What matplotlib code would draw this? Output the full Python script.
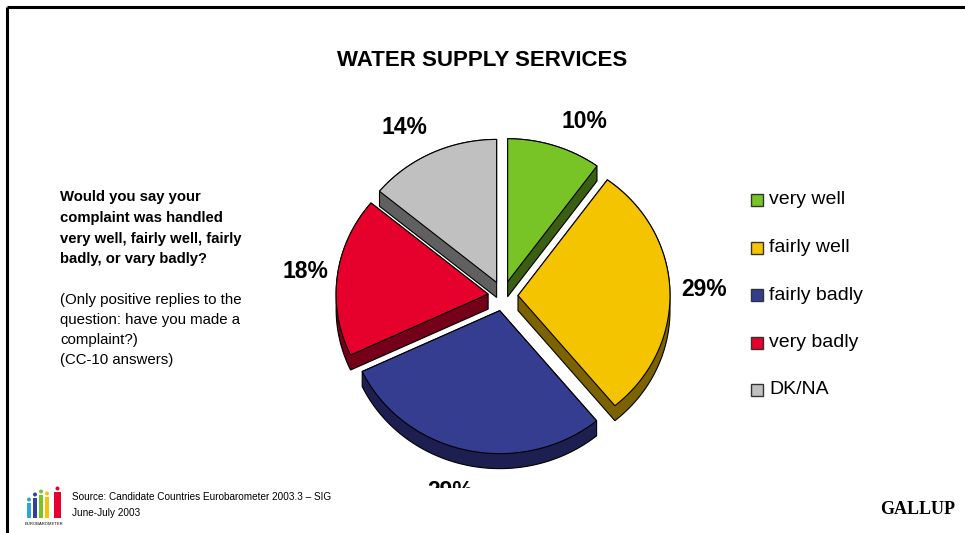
import numpy as np
import matplotlib.pyplot as plt
from matplotlib.patches import Polygon, Rectangle, Circle

categories = ['very well', 'fairly well', 'fairly badly', 'very badly', 'DK/NA']
shares = [10, 29, 29, 18, 14]
top_colors = ['#78C326', '#F5C400', '#343D8F', '#E6002C', '#C0C0C0']
side_colors = ['#3A5E12', '#7D6300', '#1C1F50', '#74001A', '#606060']

# label anchors (pixels) for the percentage texts
label_xy = [(584, 121), (704, 290), (450, 492), (305, 272), (404, 127)]

plt.rcParams['font.family'] = ['Liberation Sans', 'DejaVu Sans']

fig = plt.figure(figsize=(9.65, 5.33), dpi=100)
ax = fig.add_axes([0, 0, 1, 1])
ax.set_xlim(0, 965)
ax.set_ylim(533, 0)
ax.axis('off')

# frame lines along top and left
ax.plot([7, 965], [7, 7], color='black', lw=2.2, solid_capstyle='butt')
ax.plot([7, 7], [7, 533], color='black', lw=2.2, solid_capstyle='butt')


def hull(pts):
    pts = sorted(map(tuple, pts))
    def cross(o, a, b):
        return (a[0] - o[0]) * (b[1] - o[1]) - (a[1] - o[1]) * (b[0] - o[0])
    lower, upper = [], []
    for p in pts:
        while len(lower) >= 2 and cross(lower[-2], lower[-1], p) <= 0:
            lower.pop()
        lower.append(p)
    for p in reversed(pts):
        while len(upper) >= 2 and cross(upper[-2], upper[-1], p) <= 0:
            upper.pop()
        upper.append(p)
    return np.array(lower[:-1] + upper[:-1])


# 3D exploded pie, drawn in pixel coordinates
cx, cy = 503, 296
rx, ry = 152, 143
depth = 15
explode = 15

fracs = np.array(shares) / sum(shares)
starts = 90 - 360 * np.concatenate([[0], np.cumsum(fracs)[:-1]])
ends = starts - 360 * fracs

tops = []
for t1, t2, c_side in zip(starts, ends, side_colors):
    mid = np.radians((t1 + t2) / 2)
    ox = cx + explode * np.cos(mid)
    oy = cy - explode * np.sin(mid)
    th = np.radians(np.linspace(t1, t2, 80))
    arc = np.column_stack([ox + rx * np.cos(th), oy - ry * np.sin(th)])
    top = np.vstack([[ox, oy], arc])
    bottom = top + [0, depth]
    side = hull(np.vstack([top, bottom]))
    ax.add_patch(Polygon(side, closed=True, facecolor=c_side,
                         edgecolor='black', lw=0.8, zorder=2))
    tops.append(top)

for top, c_top in zip(tops, top_colors):
    ax.add_patch(Polygon(top, closed=True, facecolor=c_top,
                         edgecolor='black', lw=0.8, zorder=3))

for (lx, ly), s in zip(label_xy, shares):
    ax.text(lx, ly, f'{s}%', fontsize=16.5, fontweight='bold',
            ha='center', va='center', zorder=4)

# footer band hides the lowest label
ax.add_patch(Rectangle((340, 488), 300, 45, facecolor='white',
                       edgecolor='none', zorder=5))

ax.text(482, 60, 'WATER SUPPLY SERVICES', fontsize=16, fontweight='bold',
        ha='center', va='center')

# legend
for i, (cat, col) in enumerate(zip(categories, top_colors)):
    y = 200 + i * 47.5
    ax.add_patch(Rectangle((751, y - 6), 12, 12, facecolor=col,
                           edgecolor='#333333', lw=1.0))
    ax.text(769, y, cat, fontsize=14, ha='left', va='center')

question = ('Would you say your\ncomplaint was handled\n'
            'very well, fairly well, fairly\nbadly, or vary badly?')
note = ('(Only positive replies to the\nquestion: have you made a\n'
        'complaint?)\n(CC-10 answers)')
ax.text(60, 190, question, fontsize=10.7, fontweight='bold',
        ha='left', va='top', linespacing=1.62)
ax.text(60, 293, note, fontsize=10.8, ha='left', va='top', linespacing=1.55)

# footer
ax.text(72, 497, 'Source: Candidate Countries Eurobarometer 2003.3 \u2013 SIG',
        fontsize=7.2, ha='left', va='center', zorder=6)
ax.text(72, 513, 'June-July 2003', fontsize=7.2, ha='left', va='center', zorder=6)
ax.text(955, 510, 'GALLUP', fontsize=13, fontweight='bold',
        family='Liberation Serif', ha='right', va='center', zorder=6)

# small eurobarometer logo
logo = [(27, 503, '#2FA4E0'), (33, 498, '#34409A'), (39, 495, '#78C326'),
        (45, 497, '#F5C400'), (54, 492, '#E6002C')]
for x0, y0, col in logo:
    w = 7 if col == '#E6002C' else 4
    ax.add_patch(Rectangle((x0, y0), w, 518 - y0, facecolor=col,
                           edgecolor='none', zorder=6))
    ax.add_patch(Circle((x0 + w / 2, y0 - 3.5), 2, facecolor=col,
                        edgecolor='none', zorder=6))
ax.text(44, 524, 'EUROBAROMETER', fontsize=3, ha='center', va='center', zorder=6)

fig.savefig('out.png', dpi=100)
